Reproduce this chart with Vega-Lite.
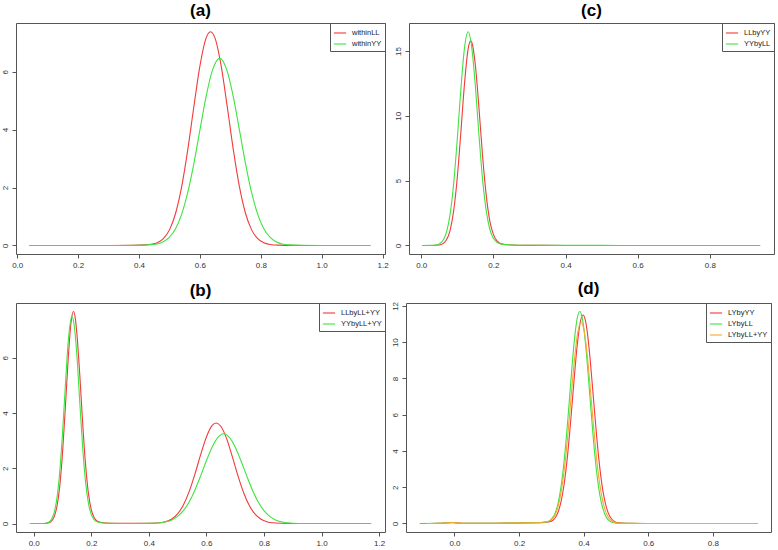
{
  "$schema": "https://vega.github.io/schema/vega-lite/v6.json",
  "padding": {"left": 0, "top": 1, "right": 3, "bottom": 0},
  "background": "white",
  "config": {
    "font": "Liberation Sans",
    "view": {"stroke": "#555555", "strokeWidth": 1},
    "axis": {"domain": false, "grid": false, "tickColor": "#555555", "tickSize": 4, "labelFontSize": 8, "labelColor": "#333333", "labelPadding": 3, "title": null, "labelFont": "Liberation Sans"},
    "axisY": {"labelAngle": -90},
    "title": {"fontSize": 17, "fontWeight": "bold", "offset": 3, "anchor": "middle", "color": "black", "font": "Liberation Sans"},
    "legend": {"orient": "top-right", "offset": 0, "strokeColor": "#555555", "fillColor": "white", "padding": 3, "symbolType": "stroke", "symbolStrokeWidth": 1.2, "symbolSize": 150, "labelFontSize": 7.5, "labelColor": "#222222", "rowPadding": 0, "labelOffset": 5, "title": null},
    "line": {"strokeWidth": 1.1, "interpolate": "monotone"},
    "concat": {"spacing": 4}
  },
  "datasets": {
    "a": [
      {"x":0.04,"y":0,"s":"withinLL"},{"x":0.2,"y":0,"s":"withinLL"},{"x":0.3,"y":0,"s":"withinLL"},{"x":0.38,"y":0.005,"s":"withinLL"},{"x":0.42,"y":0.02,"s":"withinLL"},{"x":0.44,"y":0.04,"s":"withinLL"},{"x":0.46,"y":0.091,"s":"withinLL"},{"x":0.48,"y":0.234,"s":"withinLL"},{"x":0.5,"y":0.538,"s":"withinLL"},{"x":0.52,"y":1.104,"s":"withinLL"},{"x":0.54,"y":2.02,"s":"withinLL"},{"x":0.56,"y":3.29,"s":"withinLL"},{"x":0.58,"y":4.78,"s":"withinLL"},{"x":0.6,"y":6.19,"s":"withinLL"},{"x":0.62,"y":7.15,"s":"withinLL"},{"x":0.635,"y":7.38,"s":"withinLL"},{"x":0.65,"y":7.15,"s":"withinLL"},{"x":0.67,"y":6.19,"s":"withinLL"},{"x":0.69,"y":4.78,"s":"withinLL"},{"x":0.71,"y":3.29,"s":"withinLL"},{"x":0.73,"y":2.02,"s":"withinLL"},{"x":0.75,"y":1.104,"s":"withinLL"},{"x":0.77,"y":0.538,"s":"withinLL"},{"x":0.79,"y":0.234,"s":"withinLL"},{"x":0.81,"y":0.091,"s":"withinLL"},{"x":0.83,"y":0.035,"s":"withinLL"},{"x":0.86,"y":0.01,"s":"withinLL"},{"x":0.9,"y":0.003,"s":"withinLL"},{"x":1.0,"y":0,"s":"withinLL"},{"x":1.16,"y":0,"s":"withinLL"},
      {"x":0.04,"y":0,"s":"withinYY"},{"x":0.2,"y":0,"s":"withinYY"},{"x":0.3,"y":0,"s":"withinYY"},{"x":0.4,"y":0.008,"s":"withinYY"},{"x":0.44,"y":0.03,"s":"withinYY"},{"x":0.46,"y":0.052,"s":"withinYY"},{"x":0.48,"y":0.127,"s":"withinYY"},{"x":0.5,"y":0.284,"s":"withinYY"},{"x":0.52,"y":0.578,"s":"withinYY"},{"x":0.54,"y":1.075,"s":"withinYY"},{"x":0.56,"y":1.82,"s":"withinYY"},{"x":0.58,"y":2.82,"s":"withinYY"},{"x":0.6,"y":3.98,"s":"withinYY"},{"x":0.62,"y":5.12,"s":"withinYY"},{"x":0.64,"y":6.01,"s":"withinYY"},{"x":0.665,"y":6.46,"s":"withinYY"},{"x":0.69,"y":6.01,"s":"withinYY"},{"x":0.71,"y":5.12,"s":"withinYY"},{"x":0.73,"y":3.98,"s":"withinYY"},{"x":0.75,"y":2.82,"s":"withinYY"},{"x":0.77,"y":1.82,"s":"withinYY"},{"x":0.79,"y":1.075,"s":"withinYY"},{"x":0.81,"y":0.578,"s":"withinYY"},{"x":0.83,"y":0.284,"s":"withinYY"},{"x":0.85,"y":0.127,"s":"withinYY"},{"x":0.87,"y":0.052,"s":"withinYY"},{"x":0.89,"y":0.02,"s":"withinYY"},{"x":0.93,"y":0.005,"s":"withinYY"},{"x":1.0,"y":0.001,"s":"withinYY"},{"x":1.16,"y":0,"s":"withinYY"}
    ],
    "c": [
      {"x":0.003,"y":0,"s":"LLbyYY"},{"x":0.03,"y":0,"s":"LLbyYY"},{"x":0.05,"y":0.037,"s":"LLbyYY"},{"x":0.06,"y":0.137,"s":"LLbyYY"},{"x":0.07,"y":0.435,"s":"LLbyYY"},{"x":0.08,"y":1.17,"s":"LLbyYY"},{"x":0.09,"y":2.7,"s":"LLbyYY"},{"x":0.1,"y":5.28,"s":"LLbyYY"},{"x":0.11,"y":8.81,"s":"LLbyYY"},{"x":0.12,"y":12.52,"s":"LLbyYY"},{"x":0.13,"y":15.17,"s":"LLbyYY"},{"x":0.137,"y":15.78,"s":"LLbyYY"},{"x":0.14,"y":15.67,"s":"LLbyYY"},{"x":0.15,"y":13.9,"s":"LLbyYY"},{"x":0.16,"y":10.6,"s":"LLbyYY"},{"x":0.17,"y":6.9,"s":"LLbyYY"},{"x":0.18,"y":3.9,"s":"LLbyYY"},{"x":0.19,"y":1.9,"s":"LLbyYY"},{"x":0.2,"y":0.85,"s":"LLbyYY"},{"x":0.21,"y":0.35,"s":"LLbyYY"},{"x":0.22,"y":0.14,"s":"LLbyYY"},{"x":0.24,"y":0.05,"s":"LLbyYY"},{"x":0.27,"y":0.015,"s":"LLbyYY"},{"x":0.3,"y":0.005,"s":"LLbyYY"},{"x":0.4,"y":0.001,"s":"LLbyYY"},{"x":0.5,"y":0,"s":"LLbyYY"},
      {"x":0.003,"y":0,"s":"YYbyLL"},{"x":0.03,"y":0.005,"s":"YYbyLL"},{"x":0.04,"y":0.032,"s":"YYbyLL"},{"x":0.05,"y":0.12,"s":"YYbyLL"},{"x":0.06,"y":0.38,"s":"YYbyLL"},{"x":0.07,"y":1.03,"s":"YYbyLL"},{"x":0.08,"y":2.41,"s":"YYbyLL"},{"x":0.09,"y":4.82,"s":"YYbyLL"},{"x":0.1,"y":8.25,"s":"YYbyLL"},{"x":0.11,"y":12.12,"s":"YYbyLL"},{"x":0.12,"y":15.26,"s":"YYbyLL"},{"x":0.13,"y":16.48,"s":"YYbyLL"},{"x":0.14,"y":15.26,"s":"YYbyLL"},{"x":0.15,"y":12.3,"s":"YYbyLL"},{"x":0.16,"y":8.5,"s":"YYbyLL"},{"x":0.17,"y":5.1,"s":"YYbyLL"},{"x":0.18,"y":2.7,"s":"YYbyLL"},{"x":0.19,"y":1.25,"s":"YYbyLL"},{"x":0.2,"y":0.55,"s":"YYbyLL"},{"x":0.21,"y":0.25,"s":"YYbyLL"},{"x":0.22,"y":0.12,"s":"YYbyLL"},{"x":0.24,"y":0.05,"s":"YYbyLL"},{"x":0.27,"y":0.02,"s":"YYbyLL"},{"x":0.3,"y":0.01,"s":"YYbyLL"},{"x":0.4,"y":0.004,"s":"YYbyLL"},{"x":0.5,"y":0.002,"s":"YYbyLL"},{"x":0.6,"y":0,"s":"YYbyLL"},{"x":0.94,"y":0,"s":"YYbyLL"}
    ],
    "b": [
      {"x":-0.01,"y":0,"s":"LLbyLL+YY"},{"x":0.03,"y":0,"s":"LLbyLL+YY"},{"x":0.05,"y":0.02,"s":"LLbyLL+YY"},{"x":0.06,"y":0.071,"s":"LLbyLL+YY"},{"x":0.07,"y":0.219,"s":"LLbyLL+YY"},{"x":0.08,"y":0.577,"s":"LLbyLL+YY"},{"x":0.09,"y":1.3,"s":"LLbyLL+YY"},{"x":0.1,"y":2.53,"s":"LLbyLL+YY"},{"x":0.11,"y":4.2,"s":"LLbyLL+YY"},{"x":0.12,"y":5.98,"s":"LLbyLL+YY"},{"x":0.13,"y":7.3,"s":"LLbyLL+YY"},{"x":0.138,"y":7.67,"s":"LLbyLL+YY"},{"x":0.145,"y":7.39,"s":"LLbyLL+YY"},{"x":0.15,"y":6.87,"s":"LLbyLL+YY"},{"x":0.16,"y":5.4,"s":"LLbyLL+YY"},{"x":0.17,"y":3.65,"s":"LLbyLL+YY"},{"x":0.18,"y":2.15,"s":"LLbyLL+YY"},{"x":0.19,"y":1.1,"s":"LLbyLL+YY"},{"x":0.2,"y":0.5,"s":"LLbyLL+YY"},{"x":0.21,"y":0.22,"s":"LLbyLL+YY"},{"x":0.22,"y":0.09,"s":"LLbyLL+YY"},{"x":0.24,"y":0.03,"s":"LLbyLL+YY"},{"x":0.27,"y":0.01,"s":"LLbyLL+YY"},{"x":0.3,"y":0.005,"s":"LLbyLL+YY"},{"x":0.35,"y":0.004,"s":"LLbyLL+YY"},{"x":0.4,"y":0.01,"s":"LLbyLL+YY"},{"x":0.44,"y":0.03,"s":"LLbyLL+YY"},{"x":0.46,"y":0.071,"s":"LLbyLL+YY"},{"x":0.48,"y":0.166,"s":"LLbyLL+YY"},{"x":0.5,"y":0.352,"s":"LLbyLL+YY"},{"x":0.52,"y":0.672,"s":"LLbyLL+YY"},{"x":0.54,"y":1.154,"s":"LLbyLL+YY"},{"x":0.56,"y":1.785,"s":"LLbyLL+YY"},{"x":0.58,"y":2.49,"s":"LLbyLL+YY"},{"x":0.6,"y":3.13,"s":"LLbyLL+YY"},{"x":0.62,"y":3.55,"s":"LLbyLL+YY"},{"x":0.634,"y":3.64,"s":"LLbyLL+YY"},{"x":0.65,"y":3.52,"s":"LLbyLL+YY"},{"x":0.67,"y":3.08,"s":"LLbyLL+YY"},{"x":0.69,"y":2.42,"s":"LLbyLL+YY"},{"x":0.71,"y":1.717,"s":"LLbyLL+YY"},{"x":0.73,"y":1.097,"s":"LLbyLL+YY"},{"x":0.75,"y":0.633,"s":"LLbyLL+YY"},{"x":0.77,"y":0.328,"s":"LLbyLL+YY"},{"x":0.79,"y":0.154,"s":"LLbyLL+YY"},{"x":0.81,"y":0.065,"s":"LLbyLL+YY"},{"x":0.83,"y":0.025,"s":"LLbyLL+YY"},{"x":0.86,"y":0.008,"s":"LLbyLL+YY"},{"x":0.9,"y":0.002,"s":"LLbyLL+YY"},{"x":1.0,"y":0,"s":"LLbyLL+YY"},{"x":1.17,"y":0,"s":"LLbyLL+YY"},
      {"x":-0.014,"y":0,"s":"YYbyLL+YY"},{"x":0.03,"y":0.002,"s":"YYbyLL+YY"},{"x":0.04,"y":0.01,"s":"YYbyLL+YY"},{"x":0.05,"y":0.0375,"s":"YYbyLL+YY"},{"x":0.06,"y":0.125,"s":"YYbyLL+YY"},{"x":0.07,"y":0.355,"s":"YYbyLL+YY"},{"x":0.08,"y":0.865,"s":"YYbyLL+YY"},{"x":0.09,"y":1.81,"s":"YYbyLL+YY"},{"x":0.1,"y":3.25,"s":"YYbyLL+YY"},{"x":0.11,"y":4.99,"s":"YYbyLL+YY"},{"x":0.12,"y":6.59,"s":"YYbyLL+YY"},{"x":0.133,"y":7.5,"s":"YYbyLL+YY"},{"x":0.14,"y":7.22,"s":"YYbyLL+YY"},{"x":0.15,"y":6.1,"s":"YYbyLL+YY"},{"x":0.16,"y":4.4,"s":"YYbyLL+YY"},{"x":0.17,"y":2.78,"s":"YYbyLL+YY"},{"x":0.18,"y":1.52,"s":"YYbyLL+YY"},{"x":0.19,"y":0.74,"s":"YYbyLL+YY"},{"x":0.2,"y":0.33,"s":"YYbyLL+YY"},{"x":0.21,"y":0.14,"s":"YYbyLL+YY"},{"x":0.22,"y":0.06,"s":"YYbyLL+YY"},{"x":0.24,"y":0.02,"s":"YYbyLL+YY"},{"x":0.27,"y":0.006,"s":"YYbyLL+YY"},{"x":0.3,"y":0.003,"s":"YYbyLL+YY"},{"x":0.35,"y":0.002,"s":"YYbyLL+YY"},{"x":0.4,"y":0.006,"s":"YYbyLL+YY"},{"x":0.44,"y":0.027,"s":"YYbyLL+YY"},{"x":0.46,"y":0.0615,"s":"YYbyLL+YY"},{"x":0.48,"y":0.131,"s":"YYbyLL+YY"},{"x":0.5,"y":0.256,"s":"YYbyLL+YY"},{"x":0.52,"y":0.465,"s":"YYbyLL+YY"},{"x":0.54,"y":0.779,"s":"YYbyLL+YY"},{"x":0.56,"y":1.205,"s":"YYbyLL+YY"},{"x":0.58,"y":1.723,"s":"YYbyLL+YY"},{"x":0.6,"y":2.27,"s":"YYbyLL+YY"},{"x":0.62,"y":2.77,"s":"YYbyLL+YY"},{"x":0.64,"y":3.12,"s":"YYbyLL+YY"},{"x":0.66,"y":3.25,"s":"YYbyLL+YY"},{"x":0.68,"y":3.12,"s":"YYbyLL+YY"},{"x":0.7,"y":2.77,"s":"YYbyLL+YY"},{"x":0.72,"y":2.27,"s":"YYbyLL+YY"},{"x":0.74,"y":1.723,"s":"YYbyLL+YY"},{"x":0.76,"y":1.205,"s":"YYbyLL+YY"},{"x":0.78,"y":0.779,"s":"YYbyLL+YY"},{"x":0.8,"y":0.465,"s":"YYbyLL+YY"},{"x":0.82,"y":0.256,"s":"YYbyLL+YY"},{"x":0.84,"y":0.131,"s":"YYbyLL+YY"},{"x":0.86,"y":0.0615,"s":"YYbyLL+YY"},{"x":0.88,"y":0.027,"s":"YYbyLL+YY"},{"x":0.9,"y":0.011,"s":"YYbyLL+YY"},{"x":0.95,"y":0.002,"s":"YYbyLL+YY"},{"x":1.0,"y":0,"s":"YYbyLL+YY"},{"x":1.173,"y":0,"s":"YYbyLL+YY"}
    ],
    "d": [
      {"x":-0.085,"y":0,"s":"LYbyYY"},{"x":-0.05,"y":0.01,"s":"LYbyYY"},{"x":-0.02,"y":0.04,"s":"LYbyYY"},{"x":-0.005,"y":0.05,"s":"LYbyYY"},{"x":0.01,"y":0.03,"s":"LYbyYY"},{"x":0.03,"y":0.01,"s":"LYbyYY"},{"x":0.1,"y":0.01,"s":"LYbyYY"},{"x":0.2,"y":0.03,"s":"LYbyYY"},{"x":0.25,"y":0.04,"s":"LYbyYY"},{"x":0.28,"y":0.06,"s":"LYbyYY"},{"x":0.3,"y":0.13,"s":"LYbyYY"},{"x":0.31,"y":0.262,"s":"LYbyYY"},{"x":0.32,"y":0.59,"s":"LYbyYY"},{"x":0.33,"y":1.2,"s":"LYbyYY"},{"x":0.34,"y":2.22,"s":"LYbyYY"},{"x":0.35,"y":3.73,"s":"LYbyYY"},{"x":0.36,"y":5.68,"s":"LYbyYY"},{"x":0.37,"y":7.84,"s":"LYbyYY"},{"x":0.38,"y":9.82,"s":"LYbyYY"},{"x":0.39,"y":11.15,"s":"LYbyYY"},{"x":0.398,"y":11.5,"s":"LYbyYY"},{"x":0.405,"y":11.23,"s":"LYbyYY"},{"x":0.41,"y":10.72,"s":"LYbyYY"},{"x":0.42,"y":9.08,"s":"LYbyYY"},{"x":0.43,"y":6.97,"s":"LYbyYY"},{"x":0.44,"y":4.86,"s":"LYbyYY"},{"x":0.45,"y":3.07,"s":"LYbyYY"},{"x":0.46,"y":1.76,"s":"LYbyYY"},{"x":0.47,"y":0.915,"s":"LYbyYY"},{"x":0.48,"y":0.431,"s":"LYbyYY"},{"x":0.49,"y":0.184,"s":"LYbyYY"},{"x":0.5,"y":0.072,"s":"LYbyYY"},{"x":0.52,"y":0.02,"s":"LYbyYY"},{"x":0.55,"y":0.005,"s":"LYbyYY"},{"x":0.6,"y":0,"s":"LYbyYY"},{"x":0.938,"y":0,"s":"LYbyYY"},
      {"x":-0.108,"y":0,"s":"LYbyLL"},{"x":-0.05,"y":0.005,"s":"LYbyLL"},{"x":-0.01,"y":0.04,"s":"LYbyLL"},{"x":0.02,"y":0.01,"s":"LYbyLL"},{"x":0.1,"y":0.01,"s":"LYbyLL"},{"x":0.2,"y":0.03,"s":"LYbyLL"},{"x":0.25,"y":0.045,"s":"LYbyLL"},{"x":0.27,"y":0.05,"s":"LYbyLL"},{"x":0.29,"y":0.11,"s":"LYbyLL"},{"x":0.3,"y":0.24,"s":"LYbyLL"},{"x":0.31,"y":0.493,"s":"LYbyLL"},{"x":0.32,"y":1.054,"s":"LYbyLL"},{"x":0.33,"y":2.03,"s":"LYbyLL"},{"x":0.34,"y":3.52,"s":"LYbyLL"},{"x":0.35,"y":5.51,"s":"LYbyLL"},{"x":0.36,"y":7.77,"s":"LYbyLL"},{"x":0.37,"y":9.88,"s":"LYbyLL"},{"x":0.38,"y":11.31,"s":"LYbyLL"},{"x":0.388,"y":11.69,"s":"LYbyLL"},{"x":0.395,"y":11.4,"s":"LYbyLL"},{"x":0.4,"y":10.85,"s":"LYbyLL"},{"x":0.41,"y":9.09,"s":"LYbyLL"},{"x":0.42,"y":6.86,"s":"LYbyLL"},{"x":0.43,"y":4.67,"s":"LYbyLL"},{"x":0.44,"y":2.86,"s":"LYbyLL"},{"x":0.45,"y":1.58,"s":"LYbyLL"},{"x":0.46,"y":0.79,"s":"LYbyLL"},{"x":0.47,"y":0.35,"s":"LYbyLL"},{"x":0.48,"y":0.14,"s":"LYbyLL"},{"x":0.49,"y":0.05,"s":"LYbyLL"},{"x":0.5,"y":0.02,"s":"LYbyLL"},{"x":0.52,"y":0.005,"s":"LYbyLL"},{"x":0.6,"y":0,"s":"LYbyLL"},{"x":0.938,"y":0,"s":"LYbyLL"},
      {"x":-0.085,"y":0,"s":"LYbyLL+YY"},{"x":-0.05,"y":0.01,"s":"LYbyLL+YY"},{"x":-0.02,"y":0.04,"s":"LYbyLL+YY"},{"x":-0.005,"y":0.05,"s":"LYbyLL+YY"},{"x":0.01,"y":0.03,"s":"LYbyLL+YY"},{"x":0.03,"y":0.01,"s":"LYbyLL+YY"},{"x":0.1,"y":0.01,"s":"LYbyLL+YY"},{"x":0.2,"y":0.03,"s":"LYbyLL+YY"},{"x":0.25,"y":0.04,"s":"LYbyLL+YY"},{"x":0.28,"y":0.08,"s":"LYbyLL+YY"},{"x":0.3,"y":0.2,"s":"LYbyLL+YY"},{"x":0.31,"y":0.416,"s":"LYbyLL+YY"},{"x":0.32,"y":0.884,"s":"LYbyLL+YY"},{"x":0.33,"y":1.7,"s":"LYbyLL+YY"},{"x":0.34,"y":2.96,"s":"LYbyLL+YY"},{"x":0.35,"y":4.69,"s":"LYbyLL+YY"},{"x":0.36,"y":6.73,"s":"LYbyLL+YY"},{"x":0.37,"y":8.76,"s":"LYbyLL+YY"},{"x":0.38,"y":10.35,"s":"LYbyLL+YY"},{"x":0.392,"y":11.1,"s":"LYbyLL+YY"},{"x":0.4,"y":10.76,"s":"LYbyLL+YY"},{"x":0.41,"y":9.48,"s":"LYbyLL+YY"},{"x":0.42,"y":7.57,"s":"LYbyLL+YY"},{"x":0.43,"y":5.48,"s":"LYbyLL+YY"},{"x":0.44,"y":3.6,"s":"LYbyLL+YY"},{"x":0.45,"y":2.15,"s":"LYbyLL+YY"},{"x":0.46,"y":1.16,"s":"LYbyLL+YY"},{"x":0.47,"y":0.57,"s":"LYbyLL+YY"},{"x":0.48,"y":0.253,"s":"LYbyLL+YY"},{"x":0.49,"y":0.1,"s":"LYbyLL+YY"},{"x":0.5,"y":0.04,"s":"LYbyLL+YY"},{"x":0.52,"y":0.01,"s":"LYbyLL+YY"},{"x":0.6,"y":0,"s":"LYbyLL+YY"},{"x":0.938,"y":0,"s":"LYbyLL+YY"}
    ]
  },
  "resolve": {"scale": {"color": "independent"}, "legend": {"color": "independent"}},
  "spacing": 9,
  "vconcat": [
    {
      "spacing": 4,
      "resolve": {"scale": {"color": "independent"}, "legend": {"color": "independent"}},
      "hconcat": [
        {
          "title": "(a)",
          "width": 369, "height": 231,
          "data": {"name": "a"},
          "mark": {"type": "line", "clip": true},
          "encoding": {
            "x": {"field": "x", "type": "quantitative", "scale": {"domain": [-0.004, 1.208], "nice": false, "zero": false}, "axis": {"values": [0, 0.2, 0.4, 0.6, 0.8, 1.0, 1.2], "format": ".1f"}},
            "y": {"field": "y", "type": "quantitative", "scale": {"domain": [-0.295, 7.68], "nice": false, "zero": false}, "axis": {"values": [0, 2, 4, 6], "format": "d"}},
            "color": {"field": "s", "type": "nominal", "scale": {"domain": ["withinLL", "withinYY"], "range": ["#f23a3a", "#3ee43e"]}, "legend": {"title": null}}
          }
        },
        {
          "title": "(c)",
          "width": 365, "height": 231,
          "data": {"name": "c"},
          "mark": {"type": "line", "clip": true},
          "encoding": {
            "x": {"field": "x", "type": "quantitative", "scale": {"domain": [-0.034, 0.978], "nice": false, "zero": false}, "axis": {"values": [0, 0.2, 0.4, 0.6, 0.8], "format": ".1f"}},
            "y": {"field": "y", "type": "quantitative", "scale": {"domain": [-0.66, 17.16], "nice": false, "zero": false}, "axis": {"values": [0, 5, 10, 15], "format": "d"}},
            "color": {"field": "s", "type": "nominal", "scale": {"domain": ["LLbyYY", "YYbyLL"], "range": ["#f23a3a", "#3ee43e"]}, "legend": {"title": null}}
          }
        }
      ]
    },
    {
      "spacing": 4,
      "resolve": {"scale": {"color": "independent"}, "legend": {"color": "independent"}},
      "hconcat": [
        {
          "title": "(b)",
          "width": 369, "height": 229,
          "data": {"name": "b"},
          "mark": {"type": "line", "clip": true},
          "encoding": {
            "x": {"field": "x", "type": "quantitative", "scale": {"domain": [-0.0615, 1.2205], "nice": false, "zero": false}, "axis": {"values": [0, 0.2, 0.4, 0.6, 0.8, 1.0, 1.2], "format": ".1f"}},
            "y": {"field": "y", "type": "quantitative", "scale": {"domain": [-0.307, 7.98], "nice": false, "zero": false}, "axis": {"values": [0, 2, 4, 6], "format": "d"}},
            "color": {"field": "s", "type": "nominal", "scale": {"domain": ["LLbyLL+YY", "YYbyLL+YY"], "range": ["#f23a3a", "#3ee43e"]}, "legend": {"title": null}}
          }
        },
        {
          "title": "(d)",
          "width": 365, "height": 229,
          "data": {"name": "d"},
          "mark": {"type": "line", "clip": true},
          "encoding": {
            "x": {"field": "x", "type": "quantitative", "scale": {"domain": [-0.15, 0.98], "nice": false, "zero": false}, "axis": {"values": [0, 0.2, 0.4, 0.6, 0.8], "format": ".1f"}},
            "y": {"field": "y", "type": "quantitative", "scale": {"domain": [-0.47, 12.16], "nice": false, "zero": false}, "axis": {"values": [0, 2, 4, 6, 8, 10, 12], "format": "d"}},
            "color": {"field": "s", "type": "nominal", "scale": {"domain": ["LYbyYY", "LYbyLL", "LYbyLL+YY"], "range": ["#f23a3a", "#3ee43e", "#f7a830"]}, "legend": {"title": null}}
          }
        }
      ]
    }
  ]
}
